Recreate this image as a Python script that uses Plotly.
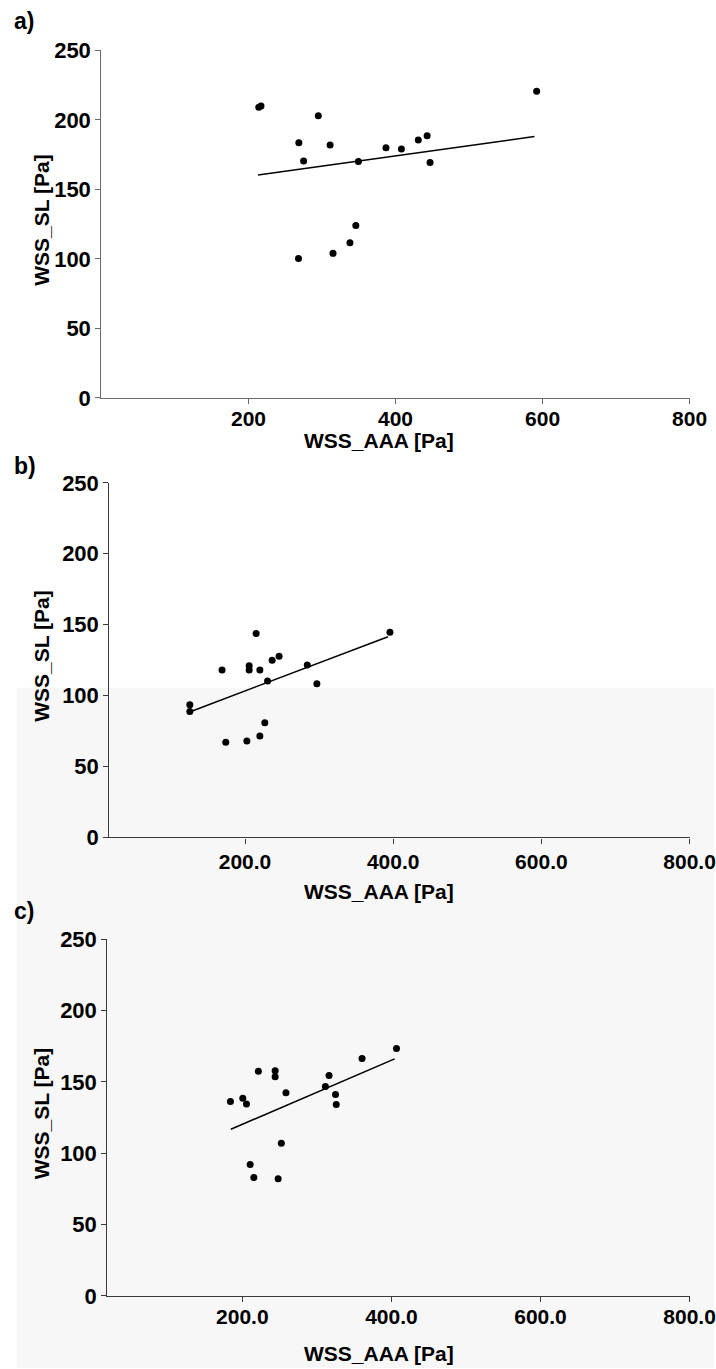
import plotly.graph_objects as go

# ---------------- data ----------------
a_x = [214, 217, 592, 295, 268.5, 275, 311, 349.5, 387, 408, 431, 443, 447, 346, 338, 315, 268]
a_y = [209, 210, 220.6, 203, 183.5, 170.5, 182, 170, 180, 179, 185.6, 188.6, 169.4, 124, 111.7, 104, 100.3]
a_fit_x = [213, 589]
a_fit_y = [160.3, 188.0]

b_x = [125.5, 125.5, 169, 215, 205.6, 205.6, 220, 236.6, 246, 230.4, 284, 297, 395.6, 226.7, 220, 202.5, 174]
b_y = [93.5, 88.9, 118, 143.8, 121, 118, 118, 124.9, 127.7, 110.3, 121.6, 108.3, 144.7, 80.8, 71.6, 68.1, 67.2]
b_fit_x = [127, 393]
b_fit_y = [88.9, 141.5]

c_x = [184, 200.6, 205.5, 221.5, 244, 244, 258.5, 311.4, 316.3, 325, 326, 360.6, 406.8, 252.3, 210.5, 215.4, 248]
c_y = [136.3, 138.6, 134.5, 157.5, 157.8, 153.7, 142.5, 146.8, 154.6, 141.3, 134.2, 166.4, 173.5, 107, 92.2, 83.1, 82.2]
c_fit_x = [184.6, 404.3]
c_fit_y = [116.9, 166.2]

x_ticks = [200, 400, 600, 800]
y_ticks = [0, 50, 100, 150, 200, 250]
x_title = "WSS_AAA [Pa]"
y_title = "WSS_SL [Pa]"
panel_labels = ["a)", "b)", "c)"]

# ---------------- layout geometry (target picture pixels) ----------------
SX, SY, OX, OY = 0.968, 0.983, -1.8, 11.6
W, H = 740, 1381
def px(x):
    return ((x - OX) / SX) / W
def py(y):
    return 1 - ((y - OY) / SY) / H

panels = [
    dict(xd=[100, 690], yd=[398, 50], xr=[0, 800], fmt="", sx=a_x, sy=a_y, fx=a_fit_x, fy=a_fit_y,
         lab_y=21, xt_y=441, standoff=-3, axcol="#6a6a6a"),
    dict(xd=[108, 690], yd=[838, 483], xr=[17, 800], fmt=".1f", sx=b_x, sy=b_y, fx=b_fit_x, fy=b_fit_y,
         lab_y=466, xt_y=892, standoff=0, axcol="#3a3a3a"),
    dict(xd=[106, 690], yd=[1297, 940], xr=[19, 800], fmt=".1f", sx=c_x, sy=c_y, fx=c_fit_x, fy=c_fit_y,
         lab_y=912, xt_y=1355, standoff=-3, axcol="#3a3a3a"),
]

FONT = "Liberation Sans, Arial, sans-serif"

fig = go.Figure()
layout = dict(width=W, height=H, margin=dict(l=0, r=0, t=0, b=0), autosize=False,
              paper_bgcolor="white", plot_bgcolor="rgba(0,0,0,0)", showlegend=False,
              font=dict(family=FONT, color="black"))
annotations = []
shapes = [dict(type="rect", xref="paper", yref="paper", x0=px(15), x1=1, y0=0, y1=py(688),
               fillcolor="#f7f7f7", line=dict(width=0), layer="below")]

for i, p in enumerate(panels, start=1):
    xa = "x" if i == 1 else f"x{i}"
    ya = "y" if i == 1 else f"y{i}"
    fig.add_trace(go.Scatter(x=p["sx"], y=p["sy"], mode="markers", xaxis=xa, yaxis=ya,
                             marker=dict(color="black", size=7), cliponaxis=False))
    fig.add_trace(go.Scatter(x=p["fx"], y=p["fy"], mode="lines", xaxis=xa, yaxis=ya,
                             line=dict(color="black", width=1.6)))
    xkey = "xaxis" if i == 1 else f"xaxis{i}"
    ykey = "yaxis" if i == 1 else f"yaxis{i}"
    xaxis = dict(domain=[px(p["xd"][0]), px(p["xd"][1])], range=p["xr"], anchor=ya,
                 tickvals=x_ticks, tickformat=p["fmt"], showgrid=False, zeroline=False,
                 showline=True, linecolor=p["axcol"], linewidth=1.4, ticks="outside", ticklen=5,
                 tickwidth=1.3, tickcolor=p["axcol"],
                 tickfont=dict(family=FONT, size=21, color="black", weight="bold"))
    if p["standoff"]:
        xaxis["ticklabelstandoff"] = p["standoff"]
    layout[xkey] = xaxis
    layout[ykey] = dict(domain=[py(p["yd"][0]), py(p["yd"][1])], range=[0, 250], anchor=xa,
                        tickvals=y_ticks, showgrid=False, zeroline=False,
                        showline=True, linecolor=p["axcol"], linewidth=1.4, ticks="outside", ticklen=5,
                        tickwidth=1.3, tickcolor=p["axcol"],
                        tickfont=dict(family=FONT, size=22, color="black", weight="bold"))
    annotations.append(dict(text=panel_labels[i - 1], xref="paper", yref="paper", x=px(10), y=py(p["lab_y"]),
                            xanchor="left", yanchor="middle", showarrow=False,
                            font=dict(family=FONT, size=23, color="black", weight="bold")))
    annotations.append(dict(text=x_title, xref="paper", yref="paper", x=px(378), y=py(p["xt_y"]),
                            xanchor="center", yanchor="middle", showarrow=False,
                            font=dict(family=FONT, size=21, color="black", weight="bold")))
    annotations.append(dict(text=y_title, xref="paper", yref="paper", x=px(40),
                            y=py((p["yd"][0] + p["yd"][1]) / 2 - 4), textangle=-90,
                            xanchor="center", yanchor="middle", showarrow=False,
                            font=dict(family=FONT, size=21, color="black", weight="bold")))

layout["annotations"] = annotations
layout["shapes"] = shapes
fig.update_layout(**layout)
fig.write_html(
    "out.html",
    config={"displayModeBar": False},
    post_script="document.body.style.margin='0';document.body.style.overflow='hidden';"
                "document.documentElement.style.overflow='hidden';",
)
